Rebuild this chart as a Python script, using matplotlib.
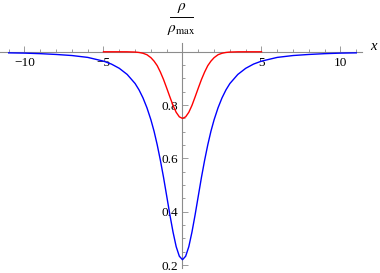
import matplotlib
matplotlib.use('Agg')
import matplotlib.pyplot as plt
from matplotlib.ticker import MultipleLocator
from matplotlib.lines import Line2D

# values
blue_x = [-11, -10, -9, -8, -7, -6, -5, -4.5, -4, -3.5, -3, -2.75, -2.5, -2.25, -2,
          -1.8, -1.6, -1.4, -1.2, -1, -0.8, -0.6, -0.4, -0.2, 0,
          0.2, 0.4, 0.6, 0.8, 1, 1.2, 1.4, 1.6, 1.8, 2,
          2.25, 2.5, 2.75, 3, 3.5, 4, 4.5, 5, 6, 7, 8, 9, 10, 11]
blue_y = [0.996, 0.995, 0.993, 0.990, 0.986, 0.979, 0.965, 0.954, 0.938, 0.915, 0.881, 0.857, 0.827, 0.790, 0.745,
          0.702, 0.651, 0.593, 0.529, 0.459, 0.389, 0.324, 0.269, 0.233, 0.220,
          0.233, 0.269, 0.324, 0.389, 0.459, 0.529, 0.593, 0.651, 0.702, 0.745,
          0.790, 0.827, 0.857, 0.881, 0.915, 0.938, 0.954, 0.965, 0.979, 0.986, 0.990, 0.993, 0.995, 0.996]

red_x = [-5, -4, -3.5, -3, -2.75, -2.5, -2.25, -2, -1.8, -1.6, -1.4, -1.2, -1, -0.8, -0.6, -0.4, -0.2, 0,
         0.2, 0.4, 0.6, 0.8, 1, 1.2, 1.4, 1.6, 1.8, 2, 2.25, 2.5, 2.75, 3, 3.5, 4, 5]
red_y = [1.0, 1.0, 0.9999, 0.999, 0.9975, 0.9945, 0.989, 0.978, 0.965, 0.948, 0.924, 0.896, 0.864, 0.831, 0.799, 0.773, 0.756, 0.750,
         0.756, 0.773, 0.799, 0.831, 0.864, 0.896, 0.924, 0.948, 0.965, 0.978, 0.989, 0.9945, 0.9975, 0.999, 0.9999, 1.0, 1.0]

x_major = [-10, -5, 5, 10]
y_major = [0.2, 0.4, 0.6, 0.8]

plt.rcParams['font.family'] = 'serif'
plt.rcParams['font.serif'] = ['Liberation Serif']
plt.rcParams['mathtext.fontset'] = 'stix'

fig = plt.figure(figsize=(3.8, 2.73), dpi=100)
ax = fig.add_axes([0.0, 0.0194, 0.9526, 0.8231])

ax.plot(blue_x, blue_y, color='#0000ff', lw=1.0, zorder=3, clip_on=False)
ax.plot(red_x, red_y, color='#ff0000', lw=1.0, zorder=4, clip_on=False)

ax.set_xlim(-11.55, 11.36)
ax.set_ylim(0.19, 1.033)

axis_col = '#8c8c8c'
for s in ['top', 'right']:
    ax.spines[s].set_visible(False)
ax.spines['left'].set_position(('data', 0))
ax.spines['bottom'].set_position(('data', 1))
ax.spines['left'].set_color(axis_col)
ax.spines['bottom'].set_color(axis_col)
ax.spines['left'].set_linewidth(0.8)
ax.spines['bottom'].set_linewidth(0.8)

ax.set_xticks(x_major)
ax.set_xticklabels(['\u221210', '\u22125', '5', '10'])
ax.set_yticks(y_major)
ax.set_yticklabels(['0.2', '0.4', '0.6', '0.8'])
ax.xaxis.set_minor_locator(MultipleLocator(1))
ax.yaxis.set_minor_locator(MultipleLocator(0.05))
ax.tick_params(which='both', direction='in', color=axis_col, width=0.6, labelsize=9.5, pad=4)
ax.tick_params(which='major', length=4)
ax.tick_params(which='minor', length=2.3)
ax.tick_params(axis='y', pad=3)
ax.patch.set_visible(False)

# axis labels
fig.text(373 / 380, 1 - 46 / 273, 'x', fontsize=10.5, style='italic', ha='center', va='center')
fig.text(181.5 / 380, 1 - 8 / 273, r'$\rho$', fontsize=11, ha='center', va='center')
fig.add_artist(Line2D([170 / 380, 193 / 380], [1 - 17 / 273, 1 - 17 / 273],
                      transform=fig.transFigure, color='black', lw=0.7))
fig.text(181.5 / 380, 1 - 30 / 273, r'$\rho_{\mathrm{max}}$', fontsize=11, ha='center', va='center')

fig.savefig('out.png', dpi=100)
